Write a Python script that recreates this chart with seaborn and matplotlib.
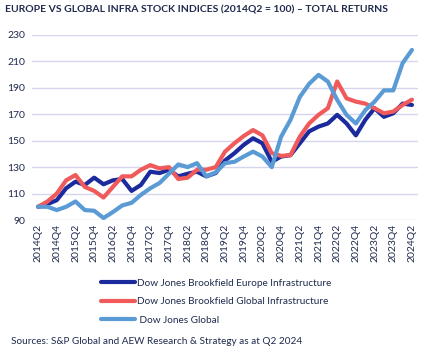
import seaborn as sns
import numpy as np
import pandas as pd
import matplotlib.pyplot as plt

# quarterly index levels, 2014Q2 = 100
quarters = [f"{y}Q{q}" for y in range(2014, 2025) for q in range(1, 5)][1:42]

europe = [100, 102, 105, 114, 119, 116.5, 122, 117, 120, 121, 112, 116.5,
          126.5, 125.5, 128, 123, 125, 126.5, 123, 125.5, 135, 140.5, 146.8,
          151.8, 148, 134, 138, 139, 148, 157, 160.6, 163, 169.5, 163, 154,
          165.7, 174.5, 168, 170.7, 178, 177]
global_infra = [100, 104, 110, 120, 124, 115, 112, 107, 115, 123, 123, 128,
                131.5, 129, 130, 121, 122, 128, 128, 130, 141.7, 148, 153.5,
                158, 154, 140.5, 138.5, 139, 153, 163, 169.5, 174.5, 194.7,
                182, 179.5, 178, 174.5, 170.7, 172, 177, 181]
dj_global = [100, 100, 97.5, 100, 104, 97.5, 97, 91.5, 96, 101, 103, 109,
             114, 118, 125, 132, 130, 133, 123, 126, 133, 134, 138, 141.7,
             138, 130, 153, 165.7, 183, 193, 199.7, 194.7, 180.8, 169.5, 163,
             173, 179.5, 188, 188, 208.6, 218.6]

names = ["Dow Jones Brookfield Europe Infrastructure",
         "Dow Jones Brookfield Global Infrastructure",
         " Dow Jones Global"]
colors = ["#1b2a9c", "#f05a5b", "#5b9bd5"]

df = pd.DataFrame({"quarter": quarters, names[0]: europe,
                   names[1]: global_infra, names[2]: dj_global})
df["idx"] = np.arange(len(df))
long = df.melt(id_vars=["quarter", "idx"], var_name="series", value_name="value")

sns.set_style("white")
plt.rcParams["font.family"] = ["Lato", "DejaVu Sans"]
text_col = "#1f2a4d"

fig = plt.figure(figsize=(4.27, 3.52), dpi=100)
ax = fig.add_axes([0.075, 0.375, 0.904, 0.526])

sns.lineplot(data=long, x="idx", y="value", hue="series", palette=colors,
             linewidth=3, ax=ax, legend=True)
for ln in ax.lines:
    ln.set_solid_joinstyle("round")
    ln.set_solid_capstyle("round")

ax.set_xlim(-0.65, 40.65)
ax.set_ylim(90, 230)
ax.set_yticks(np.arange(90, 231, 20))
ax.set_xticks(df["idx"][::2])
ax.set_xticklabels(df["quarter"][::2], rotation=90)
ax.grid(axis="y", color="#d3d6ec", linewidth=1)
ax.set_axisbelow(True)
ax.tick_params(axis="both", length=0, labelsize=7.5, colors=text_col)
ax.tick_params(axis="x", pad=3)
ax.tick_params(axis="y", pad=5)
ax.set_xlabel("")
ax.set_ylabel("")
sns.despine(ax=ax, left=True, bottom=True)

handles, labels = ax.get_legend_handles_labels()
ax.legend_.remove()
fig.legend(handles, labels, loc="upper left", bbox_to_anchor=(0.215, 0.233),
           frameon=False, fontsize=7.2, handlelength=3.4, handletextpad=0.25,
           labelspacing=0.95, labelcolor=text_col)

fig.text(0.012, 0.972, "EUROPE VS GLOBAL INFRA STOCK INDICES (2014Q2 = 100) \u2013 TOTAL RETURNS",
         fontsize=7.5, fontweight="bold", color=text_col, va="center", ha="left")
fig.text(0.026, 0.03, "Sources: S&P Global and AEW Research & Strategy as at Q2 2024",
         fontsize=7.2, color=text_col, va="center", ha="left")

fig.savefig("out.png", dpi=100)
